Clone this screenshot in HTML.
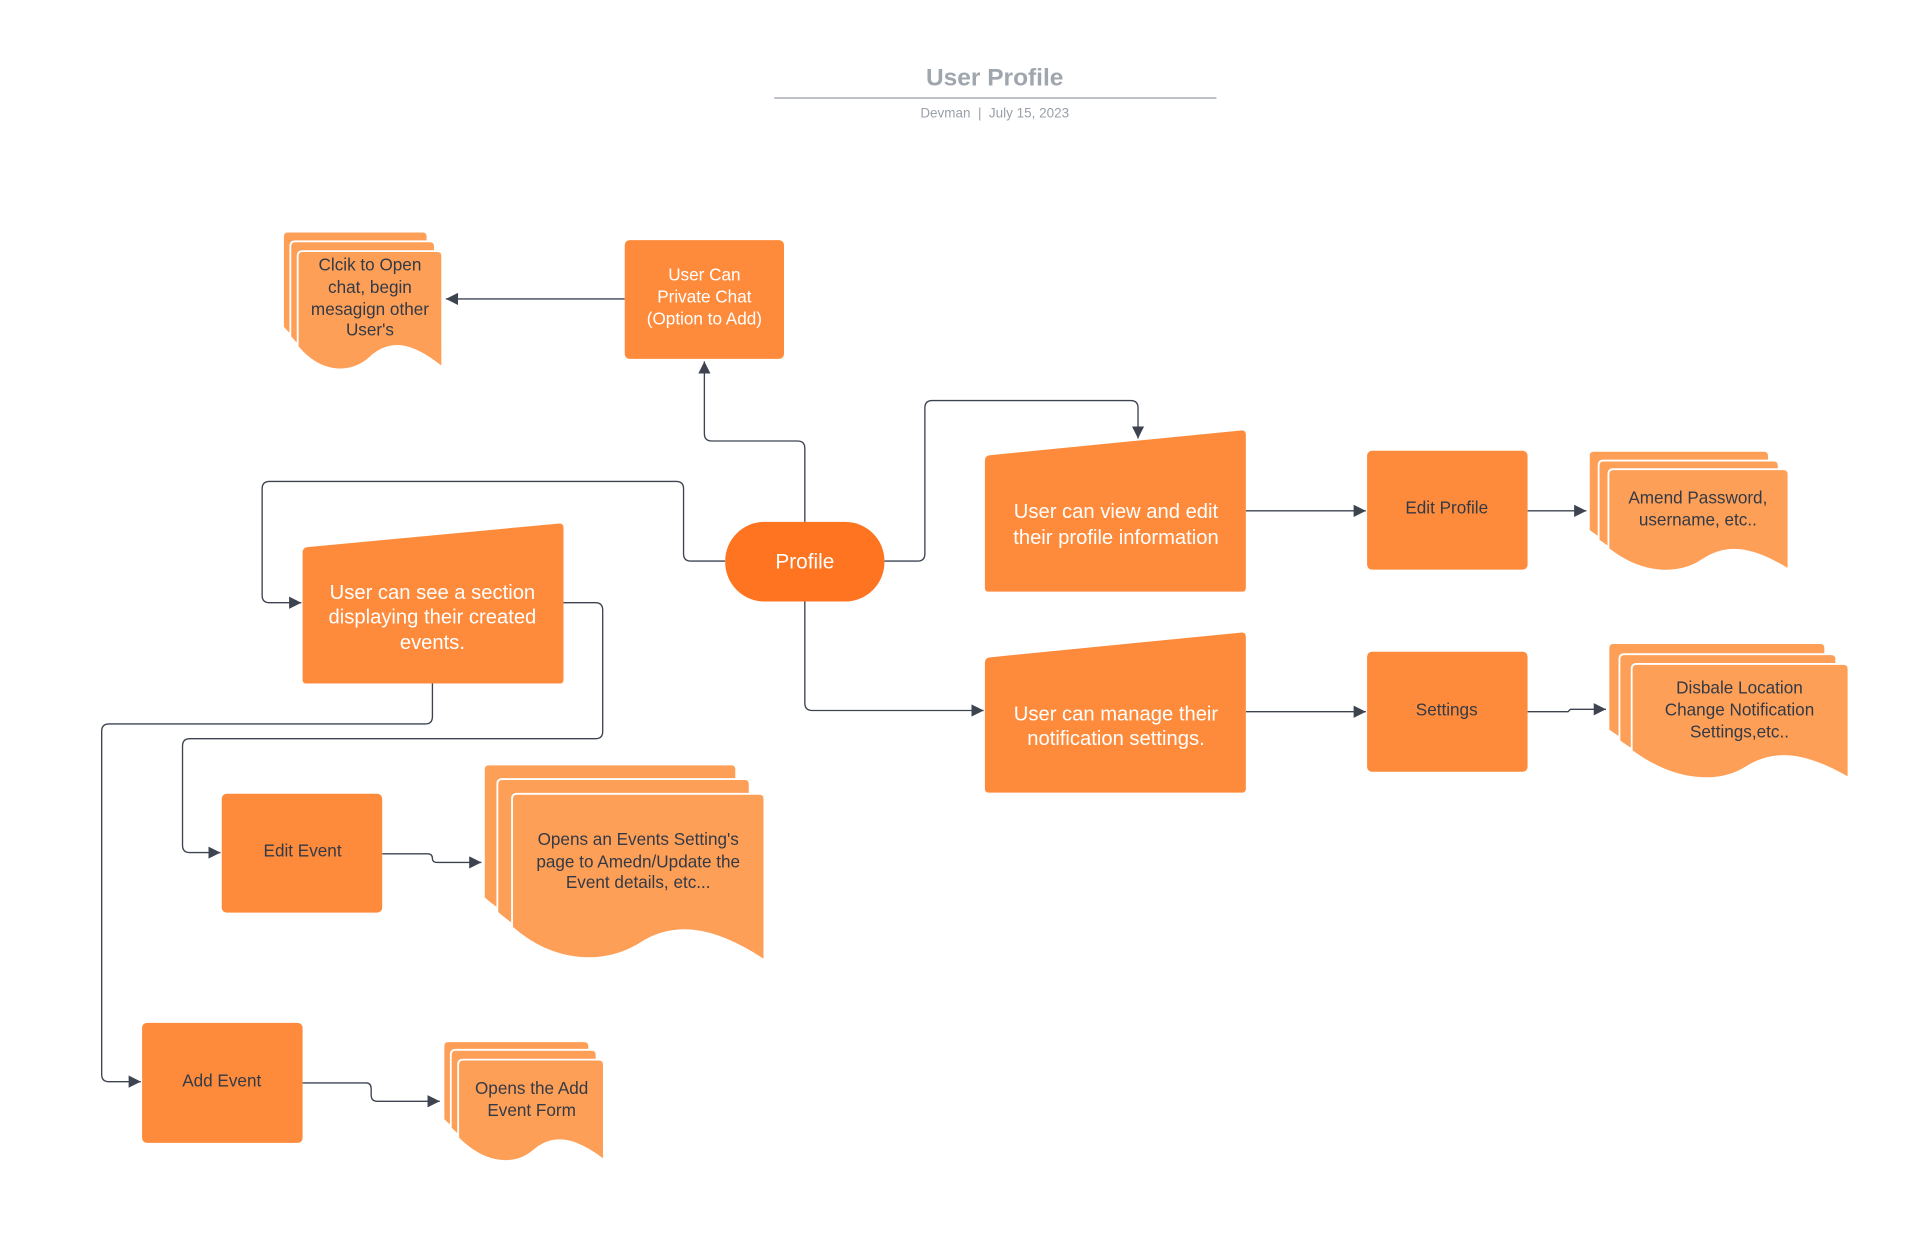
<!DOCTYPE html>
<html><head><meta charset="utf-8"><style>
html,body{margin:0;padding:0;background:#fff;}
svg{display:block;}
text{font-family:"Liberation Sans",sans-serif;text-anchor:middle;}
.w{fill:#fff;font-size:14px;}
.wb{fill:#fff;font-size:16.5px;}
.d{fill:#333a45;font-size:14px;}
.ln{fill:none;stroke:#3d4450;stroke-width:1.1;stroke-linejoin:round;}
.ar{fill:#3d4450;}
.bx{fill:#fe8b3c;}
.doc{fill:#fe9f58;stroke:#fff;stroke-width:1.5;}
</style></head><body>
<svg width="1911" height="1234" viewBox="0 0 1560 1007.35" xmlns="http://www.w3.org/2000/svg">
<defs>
<marker id="a" viewBox="0 0 10 10" refX="10" refY="5" markerWidth="10" markerHeight="10" markerUnits="userSpaceOnUse" orient="auto"><path d="M0,0 L10,5 L0,10 z" class="ar"/></marker>
</defs>
<text x="812" y="70" style="font-size:20px;font-weight:bold;fill:#a0a6ae">User Profile</text>
<line x1="632" y1="80" x2="993" y2="80" stroke="#b5bac1" stroke-width="1.5"/>
<text x="812" y="96" style="font-size:11px;fill:#9aa0a8">Devman  &#160;|&#160; July 15, 2023</text>

<!-- connectors -->
<path class="ln" d="M510,244 H364" marker-end="url(#a)"/>
<path class="ln" d="M657,426 V366 Q657,360 651,360 H581 Q575,360 575,354 V295" marker-end="url(#a)"/>
<path class="ln" d="M592,458 H564 Q558,458 558,452 V399 Q558,393 552,393 H220 Q214,393 214,399 V486 Q214,492 220,492 H246" marker-end="url(#a)"/>
<path class="ln" d="M722,458 H749 Q755,458 755,452 V333 Q755,327 761,327 H923 Q929,327 929,333 V358" marker-end="url(#a)"/>
<path class="ln" d="M657,491 V574 Q657,580 663,580 H803" marker-end="url(#a)"/>
<path class="ln" d="M1017,417 H1115" marker-end="url(#a)"/>
<path class="ln" d="M1247,417 H1295" marker-end="url(#a)"/>
<path class="ln" d="M1017,581 H1115" marker-end="url(#a)"/>
<path class="ln" d="M1247,581 H1280 L1282,579 H1311" marker-end="url(#a)"/>
<path class="ln" d="M460,492 H486 Q492,492 492,498 V597 Q492,603 486,603 H155 Q149,603 149,609 V690 Q149,696 155,696 H180" marker-end="url(#a)"/>
<path class="ln" d="M353,558 V585 Q353,591 347,591 H89 Q83,591 83,597 V877 Q83,883 89,883 H115" marker-end="url(#a)"/>
<path class="ln" d="M312,697 H349 Q353,697 353,701 Q353,704 357,704 H393" marker-end="url(#a)"/>
<path class="ln" d="M247,884 H299 Q303,884 303,889 V894 Q303,899 308,899 H359" marker-end="url(#a)"/>

<!-- boxes -->
<rect class="bx" x="510" y="196" width="130" height="97" rx="4"/>
<text class="w" x="575" y="229">User Can</text>
<text class="w" x="575" y="247">Private Chat</text>
<text class="w" x="575" y="265">(Option to Add)</text>

<rect x="592" y="426" width="130" height="65" rx="32" fill="#fe7421"/>
<text x="657" y="464" style="fill:#fff;font-size:17px">Profile</text>

<path class="bx" d="M804,376 Q804,372 808,371.6 L1013,351.4 Q1017,351 1017,355 V480 Q1017,483 1014,483 H807 Q804,483 804,480 Z"/>
<text class="wb" x="911" y="423">User can view and edit</text>
<text class="wb" x="911" y="444">their profile information</text>

<path class="bx" d="M804,541 Q804,537 808,536.6 L1013,516.4 Q1017,516 1017,520 V644 Q1017,647 1014,647 H807 Q804,647 804,644 Z"/>
<text class="wb" x="911" y="588">User can manage their</text>
<text class="wb" x="911" y="608">notification settings.</text>

<path class="bx" d="M247,451 Q247,447 251,446.6 L456,427.4 Q460,427 460,431 V555 Q460,558 457,558 H250 Q247,558 247,555 Z"/>
<text class="wb" x="353" y="489">User can see a section</text>
<text class="wb" x="353" y="509">displaying their created</text>
<text class="wb" x="353" y="530">events.</text>

<rect class="bx" x="1116" y="368" width="131" height="97" rx="4"/>
<text class="d" x="1181" y="419">Edit Profile</text>
<rect class="bx" x="1116" y="532" width="131" height="98" rx="4"/>
<text class="d" x="1181" y="584">Settings</text>
<rect class="bx" x="181" y="648" width="131" height="97" rx="4"/>
<text class="d" x="247" y="699">Edit Event</text>
<rect class="bx" x="116" y="835" width="131" height="98" rx="4"/>
<text class="d" x="181" y="887">Add Event</text>

<!-- documents -->
<g id="d1">
<path class="doc" d="M231,193 Q231,189 235,189 H345 Q349,189 349,193 V284 C322,262 305,262 290,276 C275,290 250,290 231,267 Z"/>
<path class="doc" d="M237,201 Q237,197 241,197 H351 Q355,197 355,201 V292 C328,270 311,270 296,284 C281,298 256,298 237,275 Z"/>
<path class="doc" d="M243,209 Q243,205 247,205 H357 Q361,205 361,209 V300 C334,278 317,278 302,292 C287,306 262,306 243,283 Z"/>
</g>
<text class="d" x="302" y="221">Clcik to Open</text>
<text class="d" x="302" y="239">chat, begin</text>
<text class="d" x="302" y="257">mesagign other</text>
<text class="d" x="302" y="274">User's</text>

<path class="doc" d="M1297,372 Q1297,368 1301,368 H1440 Q1444,368 1444,372 V450 C1412,430 1392,430 1374,442 C1355,455 1325,455 1297,433 Z"/>
<path class="doc" d="M1305,380 Q1305,376 1309,376 H1448 Q1452,376 1452,380 V458 C1420,438 1400,438 1382,450 C1363,463 1333,463 1305,441 Z"/>
<path class="doc" d="M1313,387 Q1313,383 1317,383 H1456 Q1460,383 1460,387 V465 C1428,445 1408,445 1390,457 C1371,470 1341,470 1313,448 Z"/>
<text class="d" x="1386" y="411">Amend Password,</text>
<text class="d" x="1386" y="429">username, etc..</text>

<path class="doc" d="M1313,529 Q1313,525 1317,525 H1486 Q1490,525 1490,529 V618 C1452,596 1428,596 1407,609 C1385,623 1350,623 1313,596 Z"/>
<path class="doc" d="M1322,538 Q1322,534 1326,534 H1495 Q1499,534 1499,538 V627 C1461,605 1437,605 1416,618 C1394,632 1359,632 1322,605 Z"/>
<path class="doc" d="M1332,546 Q1332,542 1336,542 H1505 Q1509,542 1509,546 V635 C1471,613 1447,613 1426,626 C1404,640 1369,640 1332,613 Z"/>
<text class="d" x="1420" y="566">Disbale Location</text>
<text class="d" x="1420" y="584">Change Notification</text>
<text class="d" x="1420" y="602">Settings,etc..</text>

<path class="doc" d="M395,628 Q395,624 399,624 H597 Q601,624 601,628 V760 C556,730 525,730 500,746 C472,764 430,764 395,733 Z"/>
<path class="doc" d="M406,640 Q406,636 410,636 H608 Q612,636 612,640 V772 C567,742 536,742 511,758 C483,776 441,776 406,745 Z"/>
<path class="doc" d="M418,652 Q418,648 422,648 H620 Q624,648 624,652 V784 C579,754 548,754 523,770 C495,788 453,788 418,757 Z"/>
<text class="d" x="521" y="690">Opens an Events Setting's</text>
<text class="d" x="521" y="708">page to Amedn/Update the</text>
<text class="d" x="521" y="725">Event details, etc...</text>

<path class="doc" d="M362,854 Q362,850 366,850 H477 Q481,850 481,854 V932 C455,912 438,912 424,924 C409,937 385,937 362,914 Z"/>
<path class="doc" d="M368,861 Q368,857 372,857 H483 Q487,857 487,861 V939 C461,919 444,919 430,931 C415,944 391,944 368,921 Z"/>
<path class="doc" d="M374,869 Q374,865 378,865 H489 Q493,865 493,869 V947 C467,927 450,927 436,939 C421,952 397,952 374,929 Z"/>
<text class="d" x="434" y="893">Opens the Add</text>
<text class="d" x="434" y="911">Event Form</text>
</svg>
</body></html>
